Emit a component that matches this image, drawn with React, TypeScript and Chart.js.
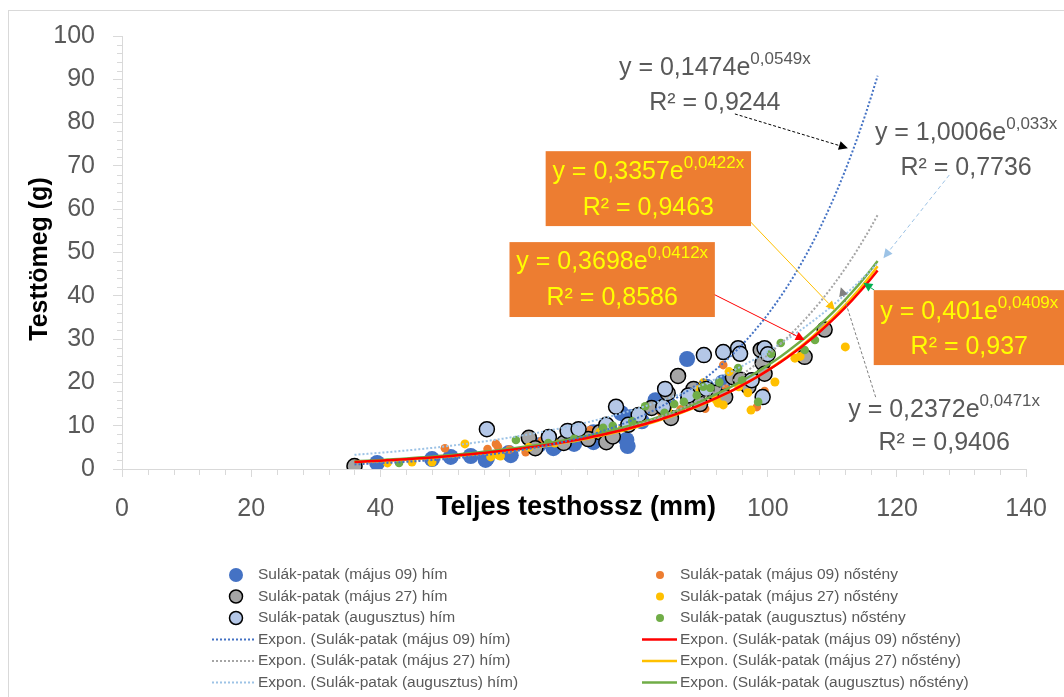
import React, { useEffect, useRef } from 'react';
import { Chart, registerables } from 'chart.js';

Chart.register(...registerables);

const FAMILY = '"Liberation Sans", Arial, sans-serif';

// ---------- data ----------
const seriesNames = [
  'Sulák-patak (május 09) hím',
  'Sulák-patak (május 09) nőstény',
  'Sulák-patak (május 27) hím',
  'Sulák-patak (május 27) nőstény',
  'Sulák-patak (augusztus) hím',
  'Sulák-patak (augusztus) nőstény',
];

const majus09Him: [number, number][] = [
  [39.5, 1.4], [48.0, 2.3], [50.9, 2.8], [54.0, 3.0], [56.3, 2.1], [56.5, 2.5], [59.9, 3.7], [60.2, 3.2],
  [64.5, 5.5], [66.8, 4.8], [67.1, 5.3], [70.0, 5.8], [73.0, 6.2], [73.0, 8.5], [75.5, 9.0], [77.3, 12.9],
  [78.1, 6.7], [78.3, 5.3], [78.9, 12.0], [80.5, 11.0], [82.6, 15.9], [84.0, 14.5], [87.5, 25.4], [88.5, 16.5],
  [90.5, 19.0], [93.0, 20.0],
];
const majus09Nosteny: [number, number][] = [
  [50.0, 4.8], [56.6, 4.6], [57.9, 5.8], [58.2, 5.2], [60.0, 4.5], [62.5, 3.9], [65.0, 6.5], [68.0, 6.3],
  [72.5, 9.0], [75.0, 8.0], [78.0, 10.5], [80.0, 11.5], [83.5, 13.0], [86.5, 13.8], [87.5, 14.8], [90.3, 13.9],
  [91.0, 17.0], [93.1, 24.0], [93.5, 18.5], [96.0, 19.5], [98.3, 14.3], [99.5, 18.0],
];
const majus27Him: [number, number][] = [
  [36.0, 0.7], [63.0, 7.2], [64.0, 4.8], [68.4, 6.0], [72.2, 6.9], [74.0, 8.5], [75.0, 6.2], [76.0, 7.5],
  [82.0, 14.1], [84.5, 17.5], [85.0, 11.8], [86.1, 21.5], [87.7, 16.4], [88.5, 18.5], [89.5, 15.0], [91.8, 17.6],
  [93.4, 16.6], [94.6, 21.2], [95.8, 20.6], [97.0, 19.0], [98.9, 27.5], [99.2, 24.5], [99.5, 22.0], [105.7, 25.9],
  [108.8, 32.2],
];
const majus27Nosteny: [number, number][] = [
  [41.1, 1.4], [44.9, 1.6], [48.0, 1.6], [53.1, 5.8], [57.1, 2.8], [58.3, 3.2], [58.6, 3.0], [63.0, 5.0],
  [67.0, 6.0], [71.0, 7.5], [74.0, 8.5], [77.5, 9.5], [80.5, 11.0], [84.5, 13.5], [88.0, 17.0], [89.5, 18.5],
  [90.0, 19.9], [92.0, 16.0], [92.3, 15.2], [93.1, 14.8], [94.0, 22.5], [95.5, 19.0], [96.9, 17.6], [97.4, 13.6],
  [98.0, 20.1], [101.1, 20.1], [104.2, 25.6], [105.0, 26.0], [112.0, 28.2],
];
const augusztusHim: [number, number][] = [
  [56.5, 9.2], [66.1, 7.4], [69.0, 8.8], [70.7, 9.2], [75.0, 10.2], [76.5, 14.4], [78.4, 10.2], [80.0, 12.5],
  [83.8, 14.3], [84.1, 18.5], [87.7, 17.0], [90.1, 26.3], [90.5, 18.5], [93.1, 27.0], [95.4, 27.9], [95.7, 26.6],
  [97.5, 20.5], [99.2, 16.6], [99.5, 27.9], [100.0, 26.5],
];
const augusztusNosteny: [number, number][] = [
  [42.9, 1.4], [61.0, 6.7], [66.0, 6.0], [70.0, 7.0], [74.5, 9.5], [76.0, 10.0], [79.0, 11.0], [81.0, 14.5],
  [84.0, 13.0], [85.5, 15.0], [87.0, 15.5], [89.0, 17.0], [90.0, 19.0], [91.1, 18.7], [92.5, 20.0], [95.4, 23.3],
  [96.0, 20.5], [98.5, 15.5], [100.5, 26.6], [102.0, 29.1], [105.7, 27.5], [107.3, 29.8],
];

// exponential trendline fits y = a * e^(b x), in series order
const trendA = [0.1474, 0.3698, 0.2372, 0.3357, 1.0006, 0.401];
const trendB = [0.0549, 0.0412, 0.0471, 0.0422, 0.033, 0.0409];
const trendR2 = [0.9244, 0.8586, 0.9406, 0.9463, 0.7736, 0.937];
const trendXStart = 36;
const trendXEnd = 117;

const xTickValues = [0, 20, 40, 60, 80, 100, 120, 140];
const yTickValues = [0, 10, 20, 30, 40, 50, 60, 70, 80, 90, 100];

// ---------- styles ----------
const pointFill = ['#4472C4', '#ED7D31', '#A5A5A5', '#FFC000', '#B4C7E7', '#70AD47'];
const pointBorder = ['#4472C4', '#ED7D31', '#000000', '#FFC000', '#000000', '#70AD47'];
const pointBorderW = [0, 0, 1.5, 0, 1.5, 0];
const pointR = [8, 4.3, 7.5, 4.5, 7.5, 4.3];
const legendR = [7, 4, 6.5, 4, 6.5, 4];
const drawOrder = [7, 6, 5, 4, 3, 2];
const trendColor = ['#4472C4', '#FF0000', '#A5A5A5', '#FFC000', '#9DC3E6', '#70AD47'];
const trendDotted = [true, false, true, false, true, false];

// annotation layout (data coordinates)
const annotations = [
  { s: 0, box: null, cx: 91.8, y1: 92.6, y2: 84.5, from: [94.9, 82.0], to: [112.4, 74.1], color: '#000000', dash: [3, 2] },
  { s: 4, box: null, cx: 130.7, y1: 77.6, y2: 69.5, from: [128.1, 67.9], to: [117.9, 48.7], color: '#9DC3E6', dash: [4, 3] },
  { s: 3, box: [65.6, 97.4, 73.4, 56.1], cx: 81.5, y1: 68.6, y2: 60.3, from: [92.3, 64.9], to: [110.4, 36.7], color: '#FFC000', dash: [] },
  { s: 1, box: [60.0, 91.8, 52.4, 35.1], cx: 75.9, y1: 47.8, y2: 39.5, from: [88.1, 43.0], to: [105.7, 29.8], color: '#FF0000', dash: [] },
  { s: 5, box: [116.4, 146, 41.3, 24.0], cx: 131.2, y1: 36.3, y2: 28.2, from: [116.5, 41.3], to: [114.8, 43.0], color: '#00B050', dash: [] },
  { s: 2, box: null, cx: 127.3, y1: 13.6, y2: 6.0, from: [116.7, 16.6], to: [111.3, 42.0], color: '#7F7F7F', dash: [3, 2] },
];

const fmt = (v: number) => String(v).replace('.', ',');

function drawArrow(ctx: CanvasRenderingContext2D, x1: number, y1: number, x2: number, y2: number, color: string, dash: number[]) {
  const ang = Math.atan2(y2 - y1, x2 - x1);
  const hl = 9;
  const hw = 4.5;
  const bx = x2 - Math.cos(ang) * hl;
  const by = y2 - Math.sin(ang) * hl;
  ctx.save();
  ctx.strokeStyle = color;
  ctx.fillStyle = color;
  ctx.lineWidth = 1;
  ctx.setLineDash(dash);
  ctx.beginPath();
  ctx.moveTo(x1, y1);
  ctx.lineTo(bx, by);
  ctx.stroke();
  ctx.setLineDash([]);
  ctx.beginPath();
  ctx.moveTo(x2, y2);
  ctx.lineTo(bx + Math.sin(ang) * hw, by - Math.cos(ang) * hw);
  ctx.lineTo(bx - Math.sin(ang) * hw, by + Math.cos(ang) * hw);
  ctx.closePath();
  ctx.fill();
  ctx.restore();
}

function drawEq(ctx: CanvasRenderingContext2D, cx: number, cy: number, main: string, sup: string, color: string) {
  const size = 25;
  const supSize = 17;
  ctx.save();
  ctx.fillStyle = color;
  ctx.textBaseline = 'middle';
  ctx.textAlign = 'left';
  ctx.font = `${size}px ${FAMILY}`;
  const w1 = ctx.measureText(main).width;
  ctx.font = `${supSize}px ${FAMILY}`;
  const w2 = sup ? ctx.measureText(sup).width : 0;
  const start = cx - (w1 + w2) / 2;
  ctx.font = `${size}px ${FAMILY}`;
  ctx.fillText(main, start, cy);
  if (sup) {
    ctx.font = `${supSize}px ${FAMILY}`;
    ctx.fillText(sup, start + w1, cy - 9);
  }
  ctx.restore();
}

const decorPlugin = {
  id: 'decor',
  beforeDraw(chart: any) {
    const ctx: CanvasRenderingContext2D = chart.ctx;
    ctx.save();
    ctx.fillStyle = '#FFFFFF';
    ctx.fillRect(0, 0, chart.width, chart.height);
    ctx.strokeStyle = '#D9D9D9';
    ctx.lineWidth = 1;
    ctx.strokeRect(8.5, 10.5, 1100, 700);
    ctx.restore();
  },
  afterDraw(chart: any) {
    const ctx: CanvasRenderingContext2D = chart.ctx;
    const xs = chart.scales.x;
    const ys = chart.scales.y;
    const area = chart.chartArea;
    ctx.save();
    // minor ticks
    ctx.strokeStyle = '#D9D9D9';
    ctx.lineWidth = 1;
    ctx.beginPath();
    for (let v = 2; v < 100; v += 2) {
      if (v % 10 === 0) continue;
      const py = Math.round(ys.getPixelForValue(v)) + 0.5;
      ctx.moveTo(area.left - 5, py);
      ctx.lineTo(area.left, py);
    }
    for (let v = 4; v < 140; v += 4) {
      if (v % 20 === 0) continue;
      const px = Math.round(xs.getPixelForValue(v)) + 0.5;
      ctx.moveTo(px, area.bottom);
      ctx.lineTo(px, area.bottom + 6);
    }
    ctx.stroke();

    // axis titles
    ctx.fillStyle = '#000000';
    ctx.textAlign = 'center';
    ctx.textBaseline = 'middle';
    ctx.font = `bold 27px ${FAMILY}`;
    const tw = ctx.measureText('Teljes testhossz (mm)').width;
    ctx.fillStyle = '#FFFFFF';
    ctx.fillRect(576 - tw / 2 - 6, 489, tw + 12, 38);
    ctx.fillStyle = '#000000';
    ctx.fillText('Teljes testhossz (mm)', 576, 508);
    ctx.font = `bold 25px ${FAMILY}`;
    ctx.save();
    ctx.translate(40, 259);
    ctx.rotate(-Math.PI / 2);
    ctx.fillText('Testtömeg (g)', 0, 0);
    ctx.restore();

    // legend
    const rows = [575, 596.5, 618, 639.5, 661, 682.5];
    ctx.font = `15.5px ${FAMILY}`;
    ctx.textAlign = 'left';
    const cols = [
      { marker: 236, lineFrom: 212, lineTo: 254, text: 258, series: [0, 2, 4] },
      { marker: 660, lineFrom: 642, lineTo: 677, text: 680, series: [1, 3, 5] },
    ];
    cols.forEach((c) => {
      c.series.forEach((s, i) => {
        const y = rows[i];
        ctx.beginPath();
        ctx.arc(c.marker, y, legendR[s], 0, Math.PI * 2);
        ctx.fillStyle = pointFill[s];
        ctx.fill();
        if (pointBorderW[s] > 0) {
          ctx.lineWidth = pointBorderW[s];
          ctx.strokeStyle = pointBorder[s];
          ctx.stroke();
        }
        ctx.fillStyle = '#595959';
        ctx.fillText(seriesNames[s], c.text, y);
      });
      c.series.forEach((s, i) => {
        const y = rows[i + 3];
        ctx.save();
        ctx.strokeStyle = trendColor[s];
        ctx.lineWidth = trendDotted[s] ? 2 : 2.5;
        ctx.setLineDash(trendDotted[s] ? [2, 2] : []);
        ctx.beginPath();
        ctx.moveTo(c.lineFrom, y);
        ctx.lineTo(c.lineTo, y);
        ctx.stroke();
        ctx.restore();
        ctx.fillStyle = '#595959';
        ctx.fillText('Expon. (' + seriesNames[s] + ')', c.text, y);
      });
    });

    // annotations
    annotations.forEach((a) => {
      const px = (v: number) => xs.getPixelForValue(v);
      const py = (v: number) => ys.getPixelForValue(v);
      drawArrow(ctx, px(a.from[0]), py(a.from[1]), px(a.to[0]), py(a.to[1]), a.color, a.dash);
    });
    annotations.forEach((a) => {
      const px = (v: number) => xs.getPixelForValue(v);
      const py = (v: number) => ys.getPixelForValue(v);
      let textColor = '#595959';
      if (a.box) {
        ctx.fillStyle = '#ED7D31';
        const x0 = px(a.box[0]);
        const x1 = px(a.box[1]);
        const y0 = py(a.box[2]);
        const y1 = py(a.box[3]);
        ctx.fillRect(x0, y0, x1 - x0, y1 - y0);
        textColor = '#FFFF00';
      }
      drawEq(ctx, px(a.cx), py(a.y1), `y = ${fmt(trendA[a.s])}e`, `${fmt(trendB[a.s])}x`, textColor);
      drawEq(ctx, px(a.cx), py(a.y2), `R² = ${fmt(trendR2[a.s])}`, '', textColor);
    });
    ctx.restore();
  },
};

const allSeries = [majus09Him, majus09Nosteny, majus27Him, majus27Nosteny, augusztusHim, augusztusNosteny];

export default function App() {
  const ref = useRef<HTMLCanvasElement | null>(null);
  useEffect(() => {
    if (!ref.current) return;
    const datasets: any[] = [];
    allSeries.forEach((pts, s) => {
      const line: { x: number; y: number }[] = [];
      for (let x = trendXStart; x <= trendXEnd; x += 1) {
        line.push({ x, y: trendA[s] * Math.exp(trendB[s] * x) });
      }
      datasets.push({
        label: 'Expon. (' + seriesNames[s] + ')',
        data: line,
        showLine: true,
        pointRadius: 0,
        borderColor: trendColor[s],
        borderWidth: trendDotted[s] ? 2 : 2.5,
        borderDash: trendDotted[s] ? [2, 2] : [],
        fill: false,
        tension: 0,
        order: 1,
      });
    });
    allSeries.forEach((pts, s) => {
      datasets.push({
        label: seriesNames[s],
        data: pts.map(([x, y]) => ({ x, y })),
        showLine: false,
        pointRadius: pointR[s],
        pointBackgroundColor: pointFill[s],
        pointBorderColor: pointBorder[s],
        pointBorderWidth: pointBorderW[s],
        order: drawOrder[s],
      });
    });
    const chart = new Chart(ref.current, {
      type: 'scatter',
      data: { datasets },
      options: {
        animation: false,
        responsive: false,
        devicePixelRatio: 1,
        layout: { padding: { left: 0, right: 1064 - 1029, top: 36, bottom: 0 } },
        plugins: { legend: { display: false }, tooltip: { enabled: false } },
        scales: {
          x: {
            type: 'linear',
            min: 0,
            max: 140,
            afterFit: (sc: any) => { sc.height = 697 - 469; },
            afterBuildTicks: (sc: any) => { sc.ticks = xTickValues.map((v) => ({ value: v })); },
            ticks: { font: { size: 25, family: FAMILY }, color: '#595959', padding: 17, maxRotation: 0 },
            grid: { drawOnChartArea: false, drawTicks: true, tickLength: 8, color: '#D9D9D9' },
            border: { color: '#D9D9D9' },
          },
          y: {
            type: 'linear',
            min: 0,
            max: 100,
            afterFit: (sc: any) => { sc.width = 122; },
            afterBuildTicks: (sc: any) => { sc.ticks = yTickValues.map((v) => ({ value: v })); },
            ticks: { font: { size: 25, family: FAMILY }, color: '#595959', padding: 18 },
            grid: { drawOnChartArea: false, drawTicks: true, tickLength: 9, color: '#D9D9D9' },
            border: { color: '#D9D9D9' },
          },
        },
      },
      plugins: [decorPlugin],
    });
    return () => chart.destroy();
  }, []);
  return (
    <div style={{ position: 'absolute', left: 0, top: 0, width: 1064, height: 697, overflow: 'hidden' }}>
      <canvas ref={ref} width={1064} height={697} style={{ display: 'block' }} />
    </div>
  );
}
